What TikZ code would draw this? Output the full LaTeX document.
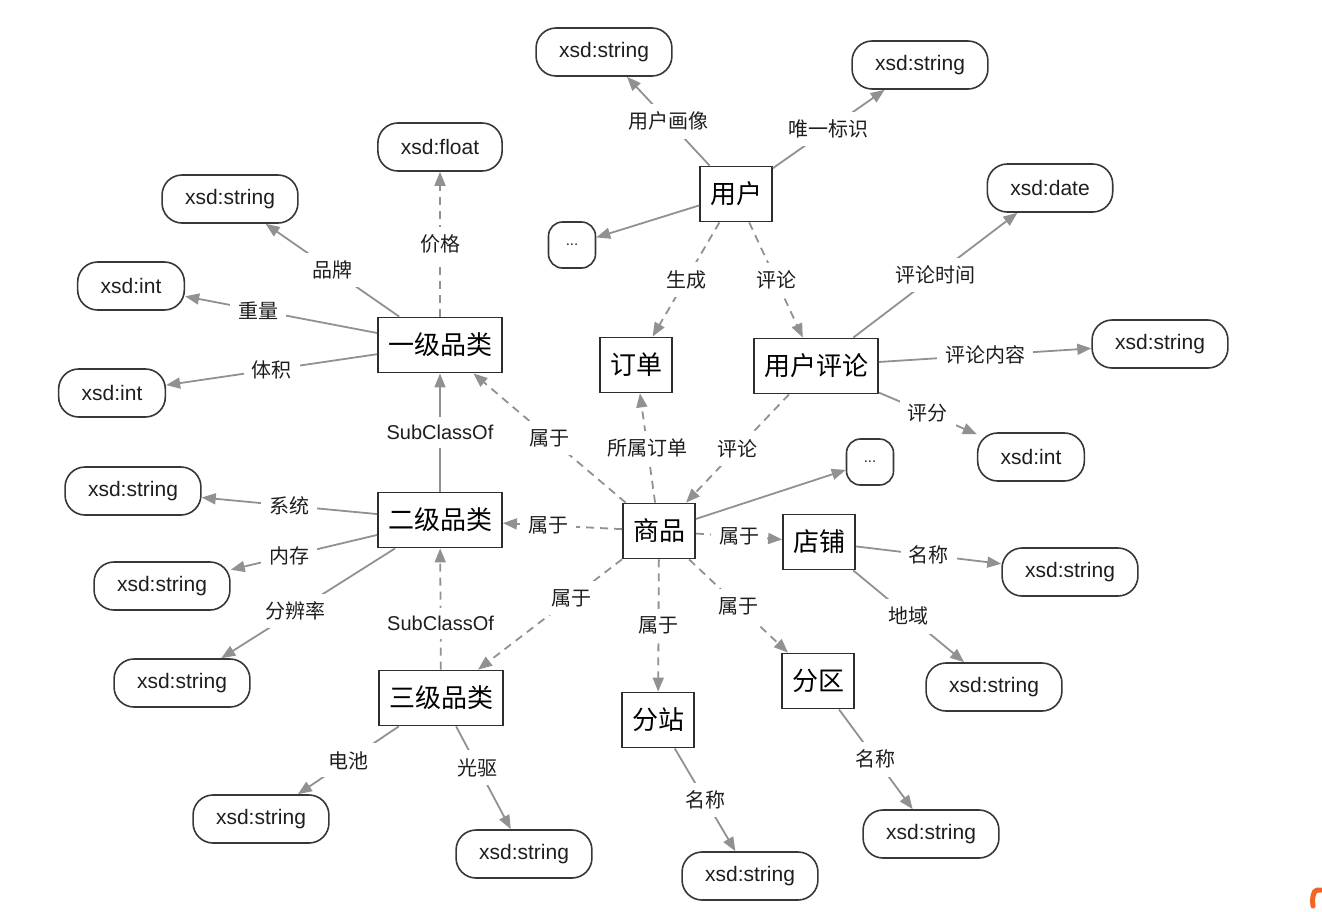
\documentclass[tikz,border=0pt]{standalone}
\usepackage{fontspec}
\setmainfont{Liberation Sans}
\newfontfamily\cjk{Noto Sans CJK SC}
\usetikzlibrary{arrows.meta}
\definecolor{boxc}{RGB}{45,45,45}
\definecolor{litc}{RGB}{55,55,55}
\definecolor{linec}{RGB}{145,145,145}
\definecolor{txtc}{RGB}{30,30,30}
\definecolor{wmc}{RGB}{242,101,34}
\begin{document}
\begin{tikzpicture}[x=1pt,y=-1pt,
  cls/.style={draw=boxc, line width=1.8pt, fill=white, text=black,
    font=\cjk\fontsize{26}{30}\selectfont, inner xsep=10pt, inner ysep=0pt,
    minimum height=55pt},
  lit/.style={draw=litc, line width=1.6pt, rounded corners=20pt, text=txtc,
    font=\fontsize{21}{25}\selectfont, inner xsep=23pt, inner ysep=0pt,
    minimum height=48pt},
  dots/.style={lit, inner xsep=0pt, minimum width=47pt, minimum height=46pt,
    rounded corners=14pt, font=\fontsize{15}{18}\selectfont},
  lbl/.style={fill=white, text=txtc, font=\cjk\fontsize{20}{24}\selectfont,
    inner sep=8pt},
  lblsub/.style={lbl, font=\fontsize{20}{24}\selectfont},
  rel/.style={draw=linec, line width=1.8pt,
    -{Triangle[length=14pt,width=11pt]}},
  obj/.style={rel, dash pattern=on 8pt off 6pt}]
\useasboundingbox (0,0) rectangle (1322,911);

% class nodes
\node[cls] (user)    at (736,194) {用户};
\node[cls] (cat1)    at (440,345) {一级品类};
\node[cls] (cat2)    at (440,520) {二级品类};
\node[cls] (cat3)    at (441,698) {三级品类};
\node[cls] (order)   at (636,365) {订单};
\node[cls] (review)  at (816,366) {用户评论};
\node[cls] (goods)   at (659,531) {商品};
\node[cls] (shop)    at (819,542) {店铺};
\node[cls] (zone)    at (818,681) {分区};
\node[cls] (station) at (658,720) {分站};

% literal nodes
\node[lit] (uimg)   at (604,52)  {xsd:string};
\node[lit] (uid)    at (920,65)  {xsd:string};
\node[dots] (umore) at (572,245) {...};
\node[lit] (rdate)  at (1050,188) {xsd:date};
\node[lit] (rtext)  at (1160,344) {xsd:string};
\node[lit] (rscore) at (1031,457) {xsd:int};
\node[dots] (gmore) at (870,462) {...};
\node[lit] (price)  at (440,147) {xsd:float};
\node[lit] (brand)  at (230,199) {xsd:string};
\node[lit] (weight) at (131,286) {xsd:int};
\node[lit] (volume) at (112,393) {xsd:int};
\node[lit] (os)     at (133,491) {xsd:string};
\node[lit] (mem)    at (162,586) {xsd:string};
\node[lit] (res)    at (182,683) {xsd:string};
\node[lit] (batt)   at (261,819) {xsd:string};
\node[lit] (drive)  at (524,854) {xsd:string};
\node[lit] (stname) at (750,876) {xsd:string};
\node[lit] (zname)  at (931,834) {xsd:string};
\node[lit] (shname) at (1070,572) {xsd:string};
\node[lit] (sharea) at (994,687) {xsd:string};

% user
\draw[rel] (user) -- node[lbl]{用户画像} (uimg);
\draw[rel] (user) -- node[lbl]{唯一标识} (uid);
\draw[rel] (user) -- (umore);
\draw[obj] (user) -- node[lbl]{生成} (order);
\draw[obj] (user) -- node[lbl]{评论} (review);

% review
\draw[rel] (review) -- node[lbl]{评论时间} (rdate);
\draw[rel] (review) -- node[lbl]{评论内容} (rtext);
\draw[rel] (review) -- node[lbl]{评分} (rscore);
\draw[obj] (review) -- node[lbl]{评论} (goods);

% goods
\draw[obj] (goods) -- node[lbl]{所属订单} (order);
\draw[obj] (goods) -- node[lbl]{属于} (cat1);
\draw[obj] (goods) -- node[lbl,pos=0.62]{属于} (cat2);
\draw[obj] (goods) -- node[lbl,pos=0.35]{属于} (cat3);
\draw[obj] (goods) -- node[lbl]{属于} (station);
\draw[obj] (goods) -- node[lbl]{属于} (zone);
\draw[obj] (goods) -- node[lbl]{属于} (shop);
\draw[rel] (goods) -- (gmore);

% category hierarchy
\draw[obj] (cat1) -- node[lbl]{价格} (price);
\draw[rel] (cat1) -- node[lbl]{品牌} (brand);
\draw[rel] (cat1) -- node[lbl,pos=0.62]{重量} (weight);
\draw[rel] (cat1) -- node[lbl]{体积} (volume);
\draw[rel] (cat2) -- node[lblsub]{SubClassOf} (cat1);
\draw[obj] (cat3) -- node[lblsub,pos=0.38]{SubClassOf} (cat2);
\draw[rel] (cat2) -- node[lbl]{系统} (os);
\draw[rel] (cat2) -- node[lbl,pos=0.6]{内存} (mem);
\draw[rel] (cat2) -- node[lbl,pos=0.57]{分辨率} (res);
\draw[rel] (cat3) -- node[lbl]{电池} (batt);
\draw[rel] (cat3) -- node[lbl,pos=0.4]{光驱} (drive);

% shop, zone, station
\draw[rel] (shop) -- node[lbl]{名称} (shname);
\draw[rel] (shop) -- node[lbl]{地域} (sharea);
\draw[rel] (zone) -- node[lbl]{名称} (zname);
\draw[rel] (station) -- node[lbl]{名称} (stname);

% corner mark
\draw[wmc, line width=5pt, line cap=round]
  (1321,890) -- (1317,890) .. controls (1313,891) and (1312,898) .. (1313,906);
\end{tikzpicture}
\end{document}
